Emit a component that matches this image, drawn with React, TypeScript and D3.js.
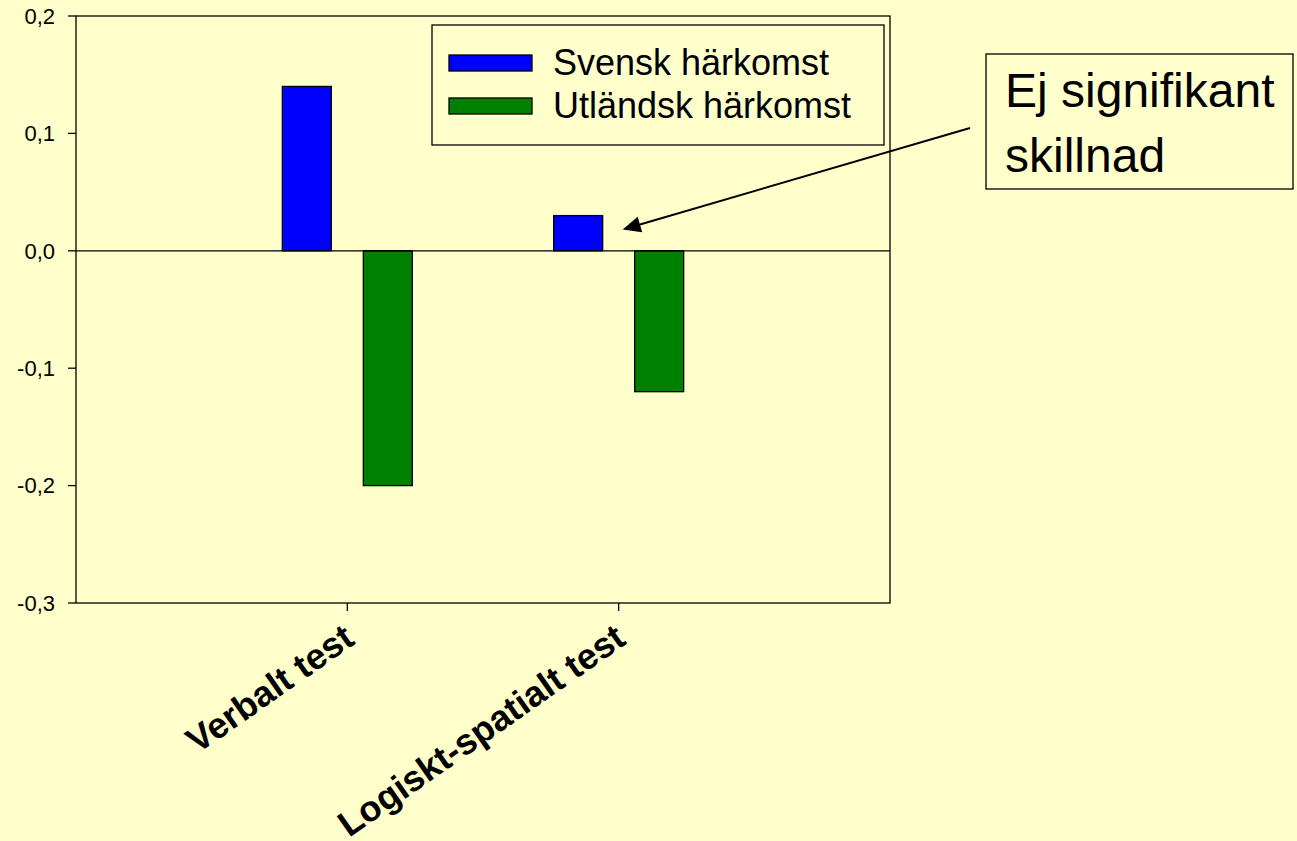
import React from "react";
import * as d3 from "d3";

const categories = ["Verbalt test", "Logiskt-spatialt test"];
const seriesNames = ["Svensk härkomst", "Utländsk härkomst"];
const svenskValues = [0.14, 0.03];
const utlandskValues = [-0.2, -0.12];
const yTicks = [0.2, 0.1, 0.0, -0.1, -0.2, -0.3];
const seriesColors = ["#0000FF", "#008000"];
const annotationLines = ["Ej signifikant", "skillnad"];

const W = 1297;
const H = 841;
const plot = { left: 76, right: 890, top: 16, bottom: 603 };
const FONT = "Arial, 'Liberation Sans', Helvetica, sans-serif";

export default function App() {
  const y = d3.scaleLinear().domain([-0.3, 0.2]).range([plot.bottom, plot.top]);
  // three equal category slots; ticks/groups sit on slot boundaries 1 and 2
  const x = d3.scaleLinear().domain([0, 3]).range([plot.left, plot.right]);
  const barW = 49;
  const gap = 16;
  const series = [svenskValues, utlandskValues];
  const fmt = (v: number) => d3.format(".1f")(v).replace(".", ",").replace("−", "-");

  // arrow
  const ax1 = 970, ay1 = 128;
  const tipX = x(2) + 4, tipY = y(0.03) + 14;
  const ang = Math.atan2(tipY - ay1, tipX - ax1);
  const hl = 18, hw = 8;
  const bx = tipX - hl * Math.cos(ang), by = tipY - hl * Math.sin(ang);
  const px = -Math.sin(ang) * hw, py = Math.cos(ang) * hw;

  return (
    <svg width={W} height={H} style={{ position: "absolute", left: 0, top: 0, background: "#FFFFCC" }} fontFamily={FONT}>
      <rect x={0} y={0} width={W} height={H} fill="#FFFFCC" />
      {/* plot frame */}
      <rect x={plot.left} y={plot.top} width={plot.right - plot.left} height={plot.bottom - plot.top} fill="none" stroke="#000" strokeWidth={1.3} />
      {/* y ticks */}
      {yTicks.map((t) => (
        <g key={t}>
          <line x1={plot.left - 8} x2={plot.left} y1={y(t)} y2={y(t)} stroke="#000" strokeWidth={1.3} />
          <text x={55} y={y(t)} dy="0.35em" textAnchor="end" fontSize={22}>{fmt(t)}</text>
        </g>
      ))}
      {/* bars */}
      {categories.map((c, i) => {
        const cx = x(i + 1);
        return series.map((vals, s) => {
          const v = vals[i];
          const bx0 = s === 0 ? cx - gap - barW : cx + gap;
          return (
            <rect key={c + s} x={bx0} y={Math.min(y(v), y(0))} width={barW} height={Math.abs(y(v) - y(0))}
              fill={seriesColors[s]} stroke="#000" strokeWidth={1.3} />
          );
        });
      })}
      {/* zero line */}
      <line x1={plot.left} x2={plot.right} y1={y(0)} y2={y(0)} stroke="#000" strokeWidth={1.3} />
      {/* x ticks and labels */}
      {categories.map((c, i) => (
        <g key={c}>
          <line x1={x(i + 1)} x2={x(i + 1)} y1={plot.bottom} y2={plot.bottom + 8} stroke="#000" strokeWidth={1.3} />
          <text transform={`translate(${x(i + 1) + 9},${plot.bottom + 40}) rotate(-35)`} textAnchor="end" fontSize={36} fontWeight="bold">{c}</text>
        </g>
      ))}
      {/* legend */}
      <rect x={432} y={25} width={452} height={120} fill="#FFFFCC" stroke="#000" strokeWidth={1.3} />
      {seriesNames.map((n, i) => (
        <g key={n}>
          <rect x={449} y={55 + i * 43} width={83} height={16} fill={seriesColors[i]} stroke="#000" strokeWidth={1.3} />
          <text x={553} y={75 + i * 43} fontSize={36}>{n}</text>
        </g>
      ))}
      {/* annotation */}
      <rect x={986} y={54} width={307} height={135} fill="#FFFFCC" stroke="#000" strokeWidth={1.3} />
      {annotationLines.map((l, i) => (
        <text key={l} x={1005} y={107 + i * 65} fontSize={48}>{l}</text>
      ))}
      <line x1={ax1} y1={ay1} x2={bx} y2={by} stroke="#000" strokeWidth={2} />
      <polygon points={`${tipX},${tipY} ${bx + px},${by + py} ${bx - px},${by - py}`} fill="#000" />
    </svg>
  );
}
